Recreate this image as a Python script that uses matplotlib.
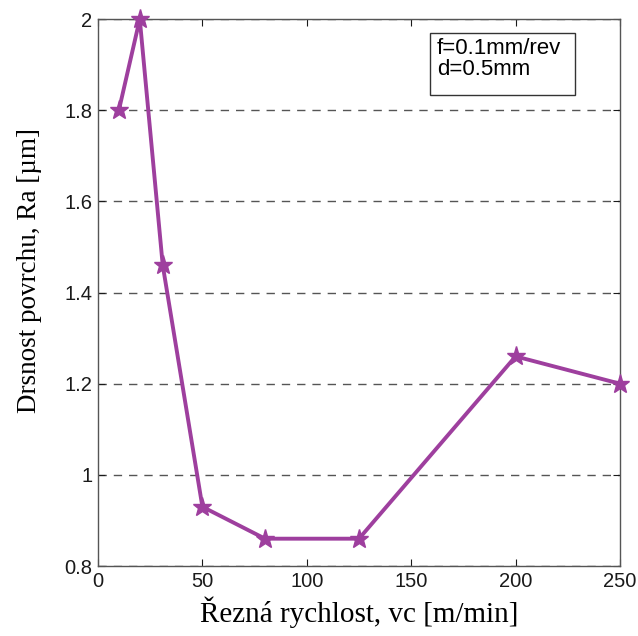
import matplotlib
matplotlib.use('Agg')
import matplotlib.pyplot as plt
from matplotlib.patches import Rectangle

# cutting speed vs. surface roughness
vc = [10, 20, 31, 50, 80, 125, 200, 250]
ra = [1.80, 2.00, 1.46, 0.93, 0.86, 0.86, 1.26, 1.20]
xticks = [0, 50, 100, 150, 200, 250]
yticks = [0.8, 1, 1.2, 1.4, 1.6, 1.8, 2]
ytick_labels = ['0.8', '1', '1.2', '1.4', '1.6', '1.8', '2']
note = 'f=0.1mm/rev\nd=0.5mm'

fig = plt.figure(figsize=(6.38, 6.36), dpi=100)
ax = fig.add_axes([0.1536, 0.110, 0.8182, 0.860])

ax.plot(vc, ra, color='#9e3f9e', linewidth=2.8, marker='*',
        markersize=14, markeredgewidth=1, clip_on=False, zorder=3)

ax.set_xlim(0, 250)
ax.set_ylim(0.8, 2)
ax.set_xticks(xticks)
ax.set_yticks(yticks)
ax.set_yticklabels(ytick_labels)
ax.tick_params(direction='in', top=True, right=True, length=5,
               labelsize=14.5, colors='#1a1a1a', pad=4)
for lab in ax.get_xticklabels() + ax.get_yticklabels():
    lab.set_family('Liberation Sans')
for s in ax.spines.values():
    s.set_color('#555555')
    s.set_linewidth(1)

ax.yaxis.grid(True, linestyle=(0, (6, 5)), color='#555555', linewidth=1)

ax.set_xlabel('Řezná rychlost, vc [m/min]', family='Liberation Serif',
              fontsize=21)
ax.set_ylabel('Drsnost povrchu, Ra [µm]', family='Liberation Serif',
              fontsize=19.5)
ax.xaxis.set_label_coords(0.5, -0.055)
ax.yaxis.set_label_coords(-0.107, 0.541)

# parameter box
ax.add_patch(Rectangle((0.636, 0.861), 0.278, 0.113, transform=ax.transAxes,
                       facecolor='white', edgecolor='#333333', linewidth=1,
                       zorder=4))
ax.text(0.649, 0.966, note, transform=ax.transAxes, va='top', ha='left',
        family='Liberation Sans', fontsize=16, linespacing=1.05, zorder=5)

fig.savefig('out.png', dpi=100)
